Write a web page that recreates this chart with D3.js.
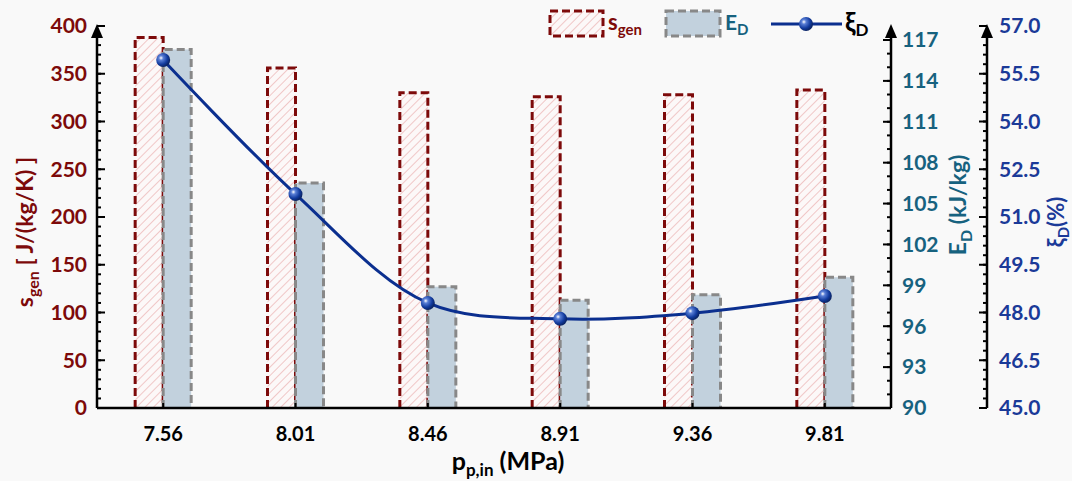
<!DOCTYPE html>
<html>
<head>
<meta charset="utf-8">
<script src="https://cdn.jsdelivr.net/npm/d3@7"></script>
<style>
  html, body { margin: 0; padding: 0; background: #f9f9f9; }
  svg { display: block; font-family: Lato, "Open Sans", sans-serif; font-weight: bold; }
</style>
</head>
<body>
<svg id="chart" width="1072" height="481"></svg>
<script>
// Inlet pressure categories (MPa)
const pressures = ["7.56", "8.01", "8.46", "8.91", "9.36", "9.81"];
// Entropy generation, J/(kg/K)
const sGen = [388, 356, 330, 326, 328, 333];
// Exergy destruction, kJ/kg
const eD = [116.3, 106.5, 98.9, 97.9, 98.3, 99.6];
// Exergy destruction ratio, %
const xiD = [55.93, 51.72, 48.30, 47.80, 47.98, 48.52];

const sTicks = [0, 50, 100, 150, 200, 250, 300, 350, 400];
const eTicks = [90, 93, 96, 99, 102, 105, 108, 111, 114, 117];
const xiTicks = [45.0, 46.5, 48.0, 49.5, 51.0, 52.5, 54.0, 55.5, 57.0];

const C_RED = "#7d0a0a", C_TEAL = "#17627f", C_BLUE = "#1b3a98";

const svg = d3.select("#chart");
const plotLeft = 97, plotRight = 891, xiX = 987, plotBottom = 408, plotTop = 26, axisTop = 24;

const x = d3.scaleBand().domain(pressures).range([plotLeft, plotRight]).padding(0);
const yS = d3.scaleLinear().domain([0, 400]).range([plotBottom, plotTop]);
const yE = d3.scaleLinear().domain([90, 117]).range([plotBottom, 40]);
const yX = d3.scaleLinear().domain([45, 57]).range([plotBottom, plotTop]);

const defs = svg.append("defs");
const hatch = defs.append("pattern").attr("id", "hatch")
  .attr("patternUnits", "userSpaceOnUse").attr("width", 6).attr("height", 6)
  .attr("patternTransform", "rotate(45)");
hatch.append("rect").attr("width", 6).attr("height", 6).attr("fill", "#fcf8f8");
hatch.append("line").attr("x1", 0).attr("y1", 0).attr("x2", 0).attr("y2", 6)
  .attr("stroke", "#e49696").attr("stroke-width", 1);

const grad = defs.append("radialGradient").attr("id", "ball")
  .attr("cx", "35%").attr("cy", "35%").attr("r", "65%");
grad.append("stop").attr("offset", "0%").attr("stop-color", "#ffffff");
grad.append("stop").attr("offset", "25%").attr("stop-color", "#5a7fd6");
grad.append("stop").attr("offset", "70%").attr("stop-color", "#123b9e");
grad.append("stop").attr("offset", "100%").attr("stop-color", "#0a2466");

const barW = 28;
const cx = d => x(d) + x.bandwidth() / 2;

// Entropy generation bars (hatched, dashed red outline)
svg.append("g").selectAll("path").data(pressures).join("path")
  .attr("d", (d, i) => {
    const x0 = cx(d) - barW, x1 = cx(d), y0 = yS(sGen[i]);
    return `M${x0},${plotBottom}V${y0}H${x1}V${plotBottom}`;
  })
  .attr("fill", "url(#hatch)")
  .attr("stroke", C_RED).attr("stroke-width", 3).attr("stroke-dasharray", "8,4");

// Exergy destruction bars (filled, dashed grey outline)
svg.append("g").selectAll("path").data(pressures).join("path")
  .attr("d", (d, i) => {
    const x0 = cx(d), x1 = cx(d) + barW, y0 = yE(eD[i]);
    return `M${x0},${plotBottom}V${y0}H${x1}V${plotBottom}`;
  })
  .attr("fill", "#c2d1dd")
  .attr("stroke", "#888").attr("stroke-width", 3).attr("stroke-dasharray", "8,4");

// Exergy destruction ratio curve with markers
const line = d3.line().x((d, i) => cx(pressures[i])).y(d => yX(d)).curve(d3.curveCatmullRom.alpha(0.5));
svg.append("path").datum(xiD).attr("d", line)
  .attr("fill", "none").attr("stroke", "#0b2f8f").attr("stroke-width", 3);
svg.append("g").selectAll("circle").data(xiD).join("circle")
  .attr("cx", (d, i) => cx(pressures[i])).attr("cy", d => yX(d)).attr("r", 7)
  .attr("fill", "url(#ball)");

// Axes helper: axis line with arrow, major + minor ticks
function arrow(xp) {
  svg.append("path").attr("d", `M${xp - 6},${axisTop + 14}L${xp},${axisTop}L${xp + 6},${axisTop + 14}Z`).attr("fill", "#000");
}
function vAxis(xp, scale, majors, minors, dir, color, fmt, labelDx, anchor) {
  const g = svg.append("g");
  g.append("line").attr("x1", xp).attr("x2", xp).attr("y1", plotBottom).attr("y2", axisTop + 4)
    .attr("stroke", "#000").attr("stroke-width", 2.5);
  g.selectAll(".mi").data(minors).join("line")
    .attr("x1", xp).attr("x2", xp + dir * 4).attr("y1", d => scale(d)).attr("y2", d => scale(d))
    .attr("stroke", "#000").attr("stroke-width", 2);
  g.selectAll(".ma").data(majors).join("line")
    .attr("x1", xp).attr("x2", xp + dir * 8).attr("y1", d => scale(d)).attr("y2", d => scale(d))
    .attr("stroke", "#000").attr("stroke-width", 2);
  g.selectAll("text").data(majors).join("text")
    .attr("x", xp + labelDx).attr("y", d => scale(d)).attr("dy", "0.35em")
    .attr("text-anchor", anchor).attr("fill", color).attr("font-size", 21)
    .text(fmt);
  arrow(xp);
}
vAxis(plotLeft, yS, sTicks, d3.range(0, 401, 10), 1, C_RED, d => d, -10, "end");
vAxis(plotRight, yE, eTicks, d3.range(90, 117.1, 1), -1, C_TEAL, d => d, 11, "start");
vAxis(xiX, yX, xiTicks, d3.range(0, 41).map(i => 45 + i * 0.3), -1, C_BLUE, d => d.toFixed(1), 12, "start");

// Category axis
svg.append("line").attr("x1", plotLeft).attr("x2", plotRight).attr("y1", plotBottom).attr("y2", plotBottom)
  .attr("stroke", "#000").attr("stroke-width", 2.5);
svg.append("g").selectAll("line").data(pressures).join("line")
  .attr("x1", cx).attr("x2", cx).attr("y1", plotBottom).attr("y2", plotBottom - 5)
  .attr("stroke", "#000").attr("stroke-width", 2);
svg.append("g").selectAll("text").data(pressures).join("text")
  .attr("x", cx).attr("y", 441).attr("text-anchor", "middle")
  .attr("font-size", 20).attr("fill", "#000").text(d => d);

// Axis titles
const xt = svg.append("text").attr("x", 508).attr("y", 470).attr("text-anchor", "middle")
  .attr("font-size", 25).attr("fill", "#000");
xt.append("tspan").text("p");
xt.append("tspan").attr("dy", 6).attr("font-size", 17).text("p,in");
xt.append("tspan").attr("dy", -6).text(" (MPa)");

const lt = svg.append("text").attr("transform", "translate(33,232) rotate(-90)")
  .attr("text-anchor", "middle").attr("font-size", 23).attr("fill", C_RED);
lt.append("tspan").text("s");
lt.append("tspan").attr("dy", 6).attr("font-size", 16).text("gen");
lt.append("tspan").attr("dy", -6).text(" [ J/(kg/K) ]");

const et = svg.append("text").attr("transform", "translate(966,205) rotate(-90)")
  .attr("text-anchor", "middle").attr("font-size", 23).attr("fill", C_TEAL);
et.append("tspan").text("E");
et.append("tspan").attr("dy", 6).attr("font-size", 16).text("D");
et.append("tspan").attr("dy", -6).text(" (kJ/kg)");

const ct = svg.append("text").attr("transform", "translate(1064,222) rotate(-90)")
  .attr("text-anchor", "middle").attr("font-size", 22).attr("fill", C_BLUE);
ct.append("tspan").text("ξ");
ct.append("tspan").attr("dy", 5).attr("font-size", 15).text("D");
ct.append("tspan").attr("dy", -5).text("(%)");

// Legend
const lg = svg.append("g");
lg.append("rect").attr("x", 550).attr("y", 11).attr("width", 53).attr("height", 25)
  .attr("fill", "url(#hatch)").attr("stroke", C_RED).attr("stroke-width", 3).attr("stroke-dasharray", "8,4");
const l1 = lg.append("text").attr("x", 608).attr("y", 30).attr("font-size", 22).attr("fill", C_RED);
l1.append("tspan").text("s");
l1.append("tspan").attr("dy", 5).attr("font-size", 15).text("gen");

lg.append("rect").attr("x", 666).attr("y", 11).attr("width", 54).attr("height", 25)
  .attr("fill", "#c2d1dd").attr("stroke", "#888").attr("stroke-width", 3).attr("stroke-dasharray", "8,4");
const l2 = lg.append("text").attr("x", 725).attr("y", 30).attr("font-size", 21).attr("fill", C_TEAL);
l2.append("tspan").text("E");
l2.append("tspan").attr("dy", 5).attr("font-size", 15).text("D");

lg.append("line").attr("x1", 771).attr("x2", 842).attr("y1", 24).attr("y2", 24)
  .attr("stroke", "#0b2f8f").attr("stroke-width", 3);
lg.append("circle").attr("cx", 806).attr("cy", 24).attr("r", 7).attr("fill", "url(#ball)");
const l3 = lg.append("text").attr("x", 845).attr("y", 31).attr("font-size", 26).attr("fill", "#000");
l3.append("tspan").text("ξ");
l3.append("tspan").attr("dy", 5).attr("font-size", 17).text("D");
</script>
</body>
</html>
